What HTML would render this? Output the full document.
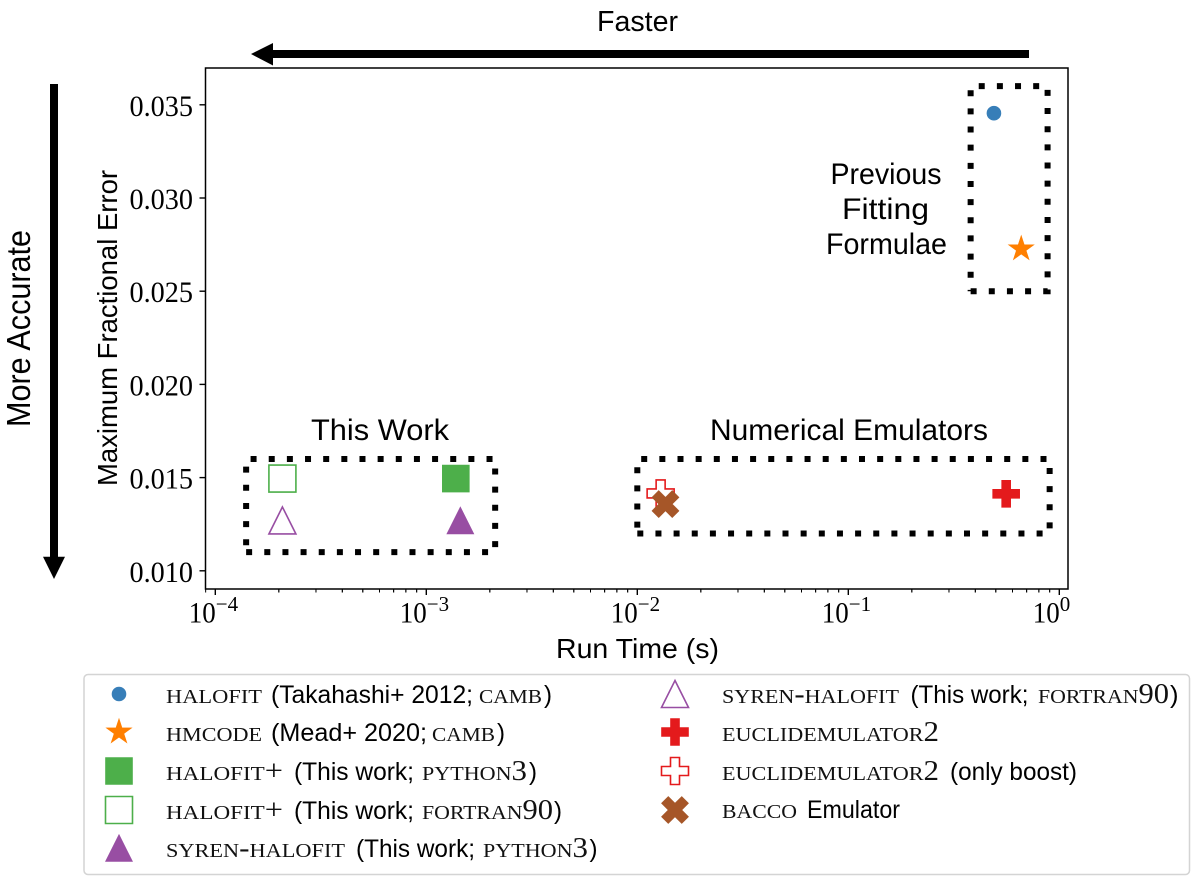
<!DOCTYPE html>
<html lang="en">
<head>
<meta charset="utf-8">
<title>Run time versus maximum fractional error</title>
<style>
  html, body { margin: 0; padding: 0; background: #fff; }
  svg { display: block; }
  text { fill: #000; }
  .sans { font-family: "Liberation Sans", sans-serif; }
  .serif { font-family: "Liberation Serif", serif; }
  .sc { font-family: "Liberation Serif", serif; font-variant: small-caps; fill: #111; }
</style>
</head>
<body>
<svg id="chart" xmlns="http://www.w3.org/2000/svg" width="1200" height="884" viewBox="0 0 1200 884">
  <rect x="205.5" y="68" width="862.5" height="521" fill="#fff"/>
  <g id="marks"></g>
  <rect x="205.5" y="68" width="862.5" height="521" fill="none" stroke="#000" stroke-width="1.5"/>
  <g id="ticks"></g>

  <text class="sans" x="597" y="31" font-size="29" textLength="81" lengthAdjust="spacingAndGlyphs">Faster</text>
  <path d="M1029 50 H273 V43 L251 54 L273 65.5 V58 H1029 Z" fill="#000"/>
  <text class="sans" transform="translate(30,427) rotate(-90)" font-size="33" textLength="197" lengthAdjust="spacingAndGlyphs">More Accurate</text>
  <path d="M50 84 V556.7 H43 L54 579 L65 556.7 H58 V84 Z" fill="#000"/>
  <text class="sans" transform="translate(117,486) rotate(-90)" font-size="28" textLength="316" lengthAdjust="spacingAndGlyphs">Maximum Fractional Error</text>
  <text class="sans" x="556" y="658" font-size="28" textLength="163" lengthAdjust="spacingAndGlyphs">Run Time (s)</text>

  <text class="sans" x="311" y="440" font-size="30" textLength="138" lengthAdjust="spacingAndGlyphs">This Work</text>
  <text class="sans" x="710" y="440" font-size="30" textLength="278" lengthAdjust="spacingAndGlyphs">Numerical Emulators</text>
  <text class="sans" x="830.5" y="184" font-size="30" textLength="111" lengthAdjust="spacingAndGlyphs">Previous</text>
  <text class="sans" x="842" y="219" font-size="30" textLength="87" lengthAdjust="spacingAndGlyphs">Fitting</text>
  <text class="sans" x="826" y="254" font-size="30" textLength="121" lengthAdjust="spacingAndGlyphs">Formulae</text>

  <rect x="84" y="674.5" width="1105.5" height="200" rx="4" fill="#fff" stroke="#d4d4d4" stroke-width="1.5"/>
  <g id="legend-markers"></g>

  <g font-size="28">
    <text class="sc" x="166" y="703" textLength="96" lengthAdjust="spacingAndGlyphs">halofit</text>
    <text class="sans" x="271" y="703" font-size="25" textLength="202" lengthAdjust="spacingAndGlyphs">(Takahashi+ 2012;</text>
    <text class="sc" x="479" y="703" textLength="63" lengthAdjust="spacingAndGlyphs">camb</text>
    <text class="sans" x="544" y="703" font-size="25" textLength="8" lengthAdjust="spacingAndGlyphs">)</text>
  </g>
  <g font-size="28">
    <text class="sc" x="166" y="741" textLength="96" lengthAdjust="spacingAndGlyphs">hmcode</text>
    <text class="sans" x="271" y="741" font-size="25" textLength="156" lengthAdjust="spacingAndGlyphs">(Mead+ 2020;</text>
    <text class="sc" x="432" y="741" textLength="63" lengthAdjust="spacingAndGlyphs">camb</text>
    <text class="sans" x="497" y="741" font-size="25" textLength="8" lengthAdjust="spacingAndGlyphs">)</text>
  </g>
  <g font-size="28">
    <text class="sc" x="166" y="780" textLength="117" lengthAdjust="spacingAndGlyphs">halofit+</text>
    <text class="sans" x="294" y="780" font-size="25" textLength="120" lengthAdjust="spacingAndGlyphs">(This work;</text>
    <text class="sc" x="422" y="780" textLength="105" lengthAdjust="spacingAndGlyphs">python3</text>
    <text class="sans" x="529" y="780" font-size="25" textLength="8" lengthAdjust="spacingAndGlyphs">)</text>
  </g>
  <g font-size="28">
    <text class="sc" x="166" y="819" textLength="117" lengthAdjust="spacingAndGlyphs">halofit+</text>
    <text class="sans" x="294" y="819" font-size="25" textLength="120" lengthAdjust="spacingAndGlyphs">(This work;</text>
    <text class="sc" x="422" y="819" textLength="131" lengthAdjust="spacingAndGlyphs">fortran90</text>
    <text class="sans" x="554" y="819" font-size="25" textLength="8" lengthAdjust="spacingAndGlyphs">)</text>
  </g>
  <g font-size="28">
    <text class="sc" x="166" y="857" textLength="179" lengthAdjust="spacingAndGlyphs">syren-halofit</text>
    <text class="sans" x="356" y="857" font-size="25" textLength="119" lengthAdjust="spacingAndGlyphs">(This work;</text>
    <text class="sc" x="483" y="857" textLength="105" lengthAdjust="spacingAndGlyphs">python3</text>
    <text class="sans" x="589.5" y="857" font-size="25" textLength="8" lengthAdjust="spacingAndGlyphs">)</text>
  </g>
  <g font-size="28">
    <text class="sc" x="722" y="703" textLength="177" lengthAdjust="spacingAndGlyphs">syren-halofit</text>
    <text class="sans" x="910.5" y="703" font-size="25" textLength="118" lengthAdjust="spacingAndGlyphs">(This work;</text>
    <text class="sc" x="1038" y="703" textLength="131" lengthAdjust="spacingAndGlyphs">fortran90</text>
    <text class="sans" x="1170" y="703" font-size="25" textLength="8.5" lengthAdjust="spacingAndGlyphs">)</text>
  </g>
  <g font-size="28">
    <text class="sc" x="722" y="741" textLength="217" lengthAdjust="spacingAndGlyphs">euclidemulator2</text>
  </g>
  <g font-size="28">
    <text class="sc" x="722" y="780" textLength="217" lengthAdjust="spacingAndGlyphs">euclidemulator2</text>
    <text class="sans" x="950" y="780" font-size="25" textLength="127" lengthAdjust="spacingAndGlyphs">(only boost)</text>
  </g>
  <g font-size="28">
    <text class="sc" x="722" y="818" textLength="75" lengthAdjust="spacingAndGlyphs">bacco</text>
    <text class="sans" x="807" y="818" font-size="25" textLength="93" lengthAdjust="spacingAndGlyphs">Emulator</text>
  </g>
</svg>
<script>
// Chart data
const seriesKeys = ['halofit', 'hmcode', 'halofit-plus-python', 'halofit-plus-fortran', 'syren-python', 'syren-fortran', 'euclidemulator', 'euclidemulator-boost', 'bacco'];
const runTimes = [0.49, 0.66, 0.00138, 0.000208, 0.00145, 0.000208, 0.56, 0.0129, 0.0136];
const maxErrors = [0.03455, 0.02727, 0.01495, 0.01495, 0.0127, 0.0127, 0.01413, 0.01415, 0.01358];
const markerShapes = ['circle', 'star', 'square', 'square', 'triangle', 'triangle', 'plus', 'plus', 'x'];
const markerColors = ['#377eb8', '#ff7f00', '#4daf4a', '#4daf4a', '#984ea3', '#984ea3', '#e41a1c', '#e41a1c', '#a65628'];
const markerFilled = [true, true, true, false, true, false, true, false, true];
const yTickValues = [0.010, 0.015, 0.020, 0.025, 0.030, 0.035];
const yTickLabels = ['0.010', '0.015', '0.020', '0.025', '0.030', '0.035'];
const xTickExponents = [-4, -3, -2, -1, 0];
const xTickLabels = ['\u22124', '\u22123', '\u22122', '\u22121', '0'];
const boxNames = ['this-work-box', 'numerical-emulators-box', 'previous-formulae-box'];
const boxTimeMin = [0.00014, 0.01, 0.38];
const boxTimeMax = [0.00212, 0.9, 0.88];
const boxErrorMin = [0.011, 0.012, 0.025];
const boxErrorMax = [0.016, 0.016, 0.036];

const SVG_NS = 'http://www.w3.org/2000/svg';
const marksLayer = document.getElementById('marks');
const ticksLayer = document.getElementById('ticks');
const legendLayer = document.getElementById('legend-markers');
const legendSlotX = [119, 119, 119, 119, 119, 675, 675, 675, 675];
const legendSlotY = [694, 732, 771, 810, 848, 694, 732, 771, 810];
const DOT_LENGTH = 6;
const DOT_PERIOD = 18.15;

function xScale(t) { return 215.3 + (Math.log10(t) + 4) * 211; }
function yScale(e) { return 570.8 - (e - 0.010) * 18640; }

function markerGeometry(shape, cx, cy) {
  const h = 13.5;
  if (shape === 'star') {
    const pts = [];
    for (let i = 0; i < 10; i++) {
      const r = i % 2 ? 13.3 * 0.382 : 13.3;
      const a = -Math.PI / 2 + i * Math.PI / 5;
      pts.push((cx + r * Math.cos(a)).toFixed(2) + ',' + (cy + r * Math.sin(a)).toFixed(2));
    }
    return pts.join(' ');
  }
  let unit;
  if (shape === 'square') unit = [[-1, -1], [1, -1], [1, 1], [-1, 1]];
  if (shape === 'triangle') unit = [[0, -1], [1, 1], [-1, 1]];
  if (shape === 'plus') {
    const t = 1 / 3;
    unit = [[-t, -1], [t, -1], [t, -t], [1, -t], [1, t], [t, t], [t, 1], [-t, 1], [-t, t], [-1, t], [-1, -t], [-t, -t]];
  }
  if (shape === 'x') {
    unit = [[-0.5, -1], [0, -0.5], [0.5, -1], [1, -0.5], [0.5, 0], [1, 0.5], [0.5, 1], [0, 0.5], [-0.5, 1], [-1, 0.5], [-0.5, 0], [-1, -0.5]];
  }
  return unit.map(function (p) { return (cx + p[0] * h).toFixed(2) + ',' + (cy + p[1] * h).toFixed(2); }).join(' ');
}

function drawMarker(parent, index, cx, cy) {
  const shape = markerShapes[index];
  let el;
  if (shape === 'circle') {
    el = document.createElementNS(SVG_NS, 'circle');
    el.setAttribute('cx', cx);
    el.setAttribute('cy', cy);
    el.setAttribute('r', 7);
  } else {
    el = document.createElementNS(SVG_NS, 'polygon');
    el.setAttribute('points', markerGeometry(shape, cx, cy));
  }
  el.setAttribute('fill', markerFilled[index] ? markerColors[index] : '#fff');
  el.setAttribute('stroke', markerColors[index]);
  el.setAttribute('stroke-width', markerFilled[index] ? 0.6 : 1.6);
  parent.appendChild(el);
  return el;
}

function addLine(parent, x1, y1, x2, y2, width) {
  const l = document.createElementNS(SVG_NS, 'line');
  l.setAttribute('x1', x1);
  l.setAttribute('y1', y1);
  l.setAttribute('x2', x2);
  l.setAttribute('y2', y2);
  l.setAttribute('stroke', '#000');
  l.setAttribute('stroke-width', width);
  parent.appendChild(l);
  return l;
}

// point at arc distance s along a closed rectangular outline, and the corner index it lies on
function outlinePoint(corners, s) {
  for (let i = 0; i < 4; i++) {
    const a = corners[i], b = corners[(i + 1) % 4];
    const len = Math.abs(b[0] - a[0]) + Math.abs(b[1] - a[1]);
    if (s <= len) {
      const f = s / len;
      return { x: a[0] + (b[0] - a[0]) * f, y: a[1] + (b[1] - a[1]) * f, side: i };
    }
    s -= len;
  }
  return { x: corners[0][0], y: corners[0][1], side: 3 };
}

// dotted group boxes, each dot a short stroke walked along the outline
boxNames.forEach(function (name, i) {
  const x0 = xScale(boxTimeMin[i]), x1 = xScale(boxTimeMax[i]);
  const y0 = yScale(boxErrorMax[i]), y1 = yScale(boxErrorMin[i]);
  const corners = [[x0, y1], [x1, y1], [x1, y0], [x0, y0]];
  const perimeter = 2 * ((x1 - x0) + (y1 - y0));
  let d = '';
  for (let s = 0; s < perimeter; s += DOT_PERIOD) {
    const p = outlinePoint(corners, s);
    const q = outlinePoint(corners, Math.min(s + DOT_LENGTH, perimeter));
    d += 'M' + p.x.toFixed(2) + ' ' + p.y.toFixed(2);
    if (q.side !== p.side) {
      const c = corners[(p.side + 1) % 4];
      d += ' L' + c[0].toFixed(2) + ' ' + c[1].toFixed(2);
    }
    d += ' L' + q.x.toFixed(2) + ' ' + q.y.toFixed(2) + ' ';
  }
  const box = document.createElementNS(SVG_NS, 'path');
  box.setAttribute('d', d);
  box.setAttribute('fill', 'none');
  box.setAttribute('stroke', '#000');
  box.setAttribute('stroke-width', 6);
  
  
  marksLayer.appendChild(box);
});

// data markers
seriesKeys.forEach(function (key, i) {
  const m = drawMarker(marksLayer, i, xScale(runTimes[i]), yScale(maxErrors[i]));
  
  
});

// legend markers
seriesKeys.forEach(function (key, i) {
  const m = drawMarker(legendLayer, i, legendSlotX[i], legendSlotY[i]);
  
  
});

// y axis
yTickValues.forEach(function (v, i) {
  const y = yScale(v);
  const t = addLine(ticksLayer, 199.5, y, 205.5, y, 1.4);
  
  
  const label = document.createElementNS(SVG_NS, 'text');
  label.setAttribute('x', 129.5);
  label.setAttribute('y', y + 11);
  label.setAttribute('class', 'serif');
  label.setAttribute('font-size', 30);
  label.setAttribute('textLength', 63.5);
  label.setAttribute('lengthAdjust', 'spacingAndGlyphs');
  label.textContent = yTickLabels[i];
  
  
  ticksLayer.appendChild(label);
});

// x axis
xTickExponents.forEach(function (exp, i) {
  const x = xScale(Math.pow(10, exp));
  const t = addLine(ticksLayer, x, 589, x, 595, 1.4);
  
  
  const base = document.createElementNS(SVG_NS, 'text');
  base.setAttribute('x', x - 26.5);
  base.setAttribute('y', 622.5);
  base.setAttribute('class', 'serif');
  base.setAttribute('font-size', 30);
  base.setAttribute('textLength', 27);
  base.setAttribute('lengthAdjust', 'spacingAndGlyphs');
  base.textContent = '10';
  
  
  ticksLayer.appendChild(base);
  const sup = document.createElementNS(SVG_NS, 'text');
  sup.setAttribute('x', x + 0.5);
  sup.setAttribute('y', 611);
  sup.setAttribute('class', 'serif');
  sup.setAttribute('font-size', 21);
  sup.textContent = xTickLabels[i];
  
  
  ticksLayer.appendChild(sup);
  // minor ticks from 2 to 9 inside each decade
  [2, 3, 4, 5, 6, 7, 8, 9].forEach(function (k) {
    [exp - 1, exp].forEach(function (e) {
      const mx = xScale(k * Math.pow(10, e));
      if (mx >= 205 && mx <= 1068.5) {
        const mt = addLine(ticksLayer, mx, 589, mx, 592.5, 1);
        
        
      }
    });
  });
});
</script>
</body>
</html>
